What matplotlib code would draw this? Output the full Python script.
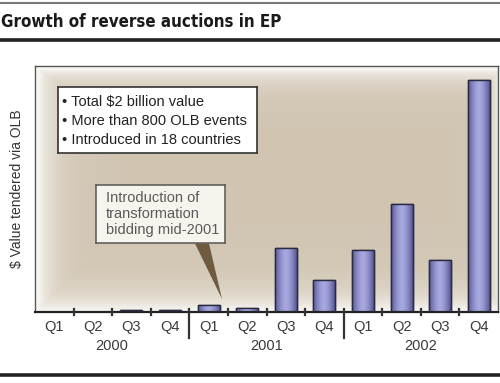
import numpy as np
import matplotlib.pyplot as plt
from matplotlib.patches import Polygon, Rectangle
from matplotlib.lines import Line2D

quarters = ["Q1", "Q2", "Q3", "Q4"] * 3
years = ["2000", "2001", "2002"]
values = [0, 0, 2, 2, 7, 4, 65, 33, 63, 110, 53, 236]

notes = ["\u2022 Total $2 billion value",
         "\u2022 More than 800 OLB events",
         "\u2022 Introduced in 18 countries"]
callout = "Introduction of\ntransformation\nbidding mid-2001"

W, H = 500, 383
fig = plt.figure(figsize=(W / 100, H / 100), dpi=100)
fig.patch.set_facecolor("white")

def fy(p):
    return 1 - p / H

# title band
fig.add_artist(Line2D([0, 1], [fy(3), fy(3)], color="#777777", lw=1.5))
fig.add_artist(Line2D([0, 1], [fy(40), fy(40)], color="#222222", lw=2.6))
fig.add_artist(Line2D([0, 1], [fy(375), fy(375)], color="#222222", lw=2.6))
fig.text(0.002, fy(22), "Growth of reverse auctions in EP", fontsize=12.2,
         family="DejaVu Sans", stretch="condensed", weight="bold",
         color="#1a1a1a", va="center", ha="left")

ax = fig.add_axes([35 / W, fy(312), 463 / W, (312 - 66) / H])
n = len(values)
x = np.arange(n)

# background with soft white edges
gx = np.linspace(0, 1, 400)
gy = np.linspace(0, 1, 300)
GX, GY = np.meshgrid(gx, gy)
edge = np.maximum.reduce([np.exp(-GX / 0.035), np.exp(-(1 - GY) / 0.05),
                          np.exp(-GY / 0.07) * 0.9, np.exp(-(1 - GX) / 0.02) * 0.6])
edge = np.maximum(edge, np.exp(-(GX / 0.08 + GY / 0.12)))
tan = np.array([0.82, 0.775, 0.70])
img = tan[None, None, :] * (1 - edge[..., None]) + edge[..., None]
ax.imshow(img, extent=[-0.5, n - 0.5, 0, 250], origin="lower", aspect="auto", zorder=0)

bars = ax.bar(x, values, width=0.57, facecolor="#7676b4", edgecolor="#2a2a40",
              linewidth=1.0, zorder=2)
grad = np.linspace(-1, 1, 64)
shade = 1 - np.abs(grad) ** 1.6
bar_img = np.zeros((2, 64, 3))
dark = np.array([0.33, 0.33, 0.58])
light = np.array([0.66, 0.66, 0.88])
for i in range(64):
    bar_img[:, i, :] = dark + (light - dark) * shade[i]
for b in bars:
    if b.get_height() <= 0:
        continue
    im = ax.imshow(bar_img, extent=[b.get_x(), b.get_x() + b.get_width(), 0, b.get_height()],
                   aspect="auto", zorder=2.5, origin="lower")
    im.set_clip_path(b)
    ax.add_patch(Rectangle((b.get_x(), 0), b.get_width(), b.get_height(), fill=False,
                           edgecolor="#2a2a40", lw=1.0, zorder=3))
ax.set_xlim(-0.5, n - 0.5)
ax.set_ylim(0, 250)

for s in ["left", "top", "right"]:
    ax.spines[s].set_color("#555555")
    ax.spines[s].set_linewidth(1.0)
ax.spines["bottom"].set_color("#222222")
ax.spines["bottom"].set_linewidth(1.6)
ax.set_yticks([])
ax.set_xticks(x)
ax.set_xticklabels(quarters, fontsize=10.5, color="#3a3a3a", family="Liberation Sans")
ax.tick_params(axis="x", length=0, pad=6)

# separators between quarters, longer ones between years
for k in range(1, n):
    lo = -0.105 if k % 4 == 0 else -0.014
    ax.plot([k - 0.5, k - 0.5], [0.014, lo], transform=ax.get_xaxis_transform(),
            color="#333333", lw=1.6, clip_on=False, zorder=5)

for j, yr in enumerate(years):
    ax.text(4 * j + 1.5, -0.137, yr, transform=ax.get_xaxis_transform(), ha="center",
            va="center", fontsize=10.5, color="#3a3a3a", family="Liberation Sans")

ax.set_ylabel("$ Value tendered via OLB", fontsize=10, color="#333333",
              family="Liberation Sans", labelpad=8)

# notes box
bx = fig.add_axes([58 / W, fy(153), (257 - 58) / W, (153 - 87) / H])
bx.set_xticks([]); bx.set_yticks([])
bx.set_facecolor("white")
for s in bx.spines.values():
    s.set_color("#333333"); s.set_linewidth(1.2)
for i, t in enumerate(notes):
    bx.text(0.02, 0.78 - i * 0.29, t, fontsize=10.5, color="#222222",
            family="Liberation Sans", va="center", ha="left")

# callout box
cx = fig.add_axes([96 / W, fy(243), (225 - 96) / W, (243 - 185) / H])
cx.set_xticks([]); cx.set_yticks([])
cx.set_facecolor("#f7f4ee")
for s in cx.spines.values():
    s.set_color("#555555"); s.set_linewidth(1.1)
cx.text(0.075, 0.5, callout, fontsize=10.5, color="#5a5a5a", family="Liberation Sans",
        va="center", ha="left", linespacing=1.15)

wedge = Polygon([(195 / W, fy(243.5)), (209 / W, fy(243.5)), (222 / W, fy(299))],
                closed=True, transform=fig.transFigure, facecolor="#6e5a3e",
                edgecolor="none", zorder=6)
fig.add_artist(wedge)

fig.savefig("out.png", dpi=100)
